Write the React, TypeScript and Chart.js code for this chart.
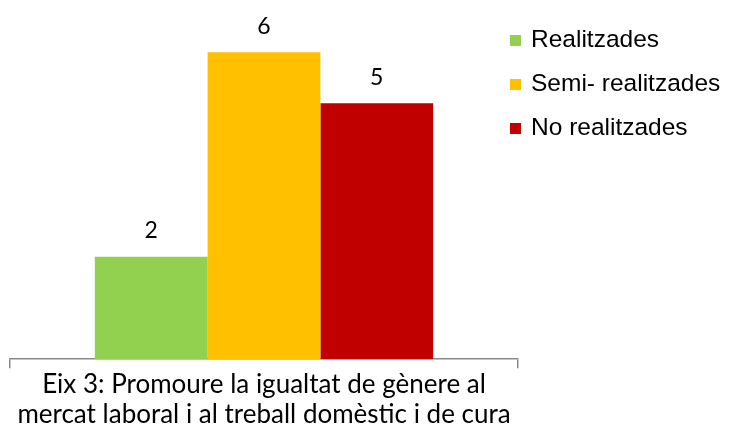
import React, { useEffect, useRef } from "react";
import { Chart, registerables } from "chart.js";

Chart.register(...registerables);

const categoryLines: string[] = [
  "Eix 3: Promoure la igualtat de gènere al",
  "mercat laboral i al treball domèstic i de cura",
];
const seriesLabels: string[] = ["Realitzades", "Semi- realitzades", "No realitzades"];
const seriesValues: number[] = [2, 6, 5];
const seriesColors: string[] = ["#92D050", "#FFC000", "#C00000"];

const valueLabelPlugin = {
  id: "valueLabels",
  afterDatasetsDraw(chart: any) {
    const ctx = chart.ctx;
    ctx.save();
    ctx.font = "23px Lato";
    ctx.fillStyle = "#000";
    ctx.textAlign = "center";
    ctx.textBaseline = "middle";
    chart.data.datasets.forEach((ds: any, i: number) => {
      const meta = chart.getDatasetMeta(i);
      meta.data.forEach((bar: any, j: number) => {
        ctx.fillText(String(ds.data[j]), bar.x, bar.y - 26);
      });
    });
    ctx.restore();
  },
};

const sideLegendPlugin = {
  id: "sideLegend",
  afterDraw(chart: any) {
    const ctx = chart.ctx;
    ctx.save();
    ctx.font = "24.5px 'Liberation Sans'";
    ctx.textBaseline = "middle";
    ctx.textAlign = "left";
    chart.data.datasets.forEach((ds: any, i: number) => {
      const cy = 40.5 + i * 44;
      ctx.fillStyle = ds.backgroundColor;
      ctx.fillRect(510, cy - 5.5, 11, 11);
      ctx.fillStyle = "#000";
      ctx.fillText(ds.label, 531, cy);
    });
    ctx.restore();
  },
};

export default function App() {
  const ref = useRef<HTMLCanvasElement>(null);
  useEffect(() => {
    document.body.style.margin = "0";
    const chart = new Chart(ref.current!, {
      type: "bar",
      data: {
        labels: [categoryLines],
        datasets: seriesLabels.map((label, i) => ({
          label,
          data: [seriesValues[i]],
          backgroundColor: seriesColors[i],
          borderWidth: 0,
        })),
      },
      options: {
        animation: false,
        responsive: false,
        layout: { padding: { left: 10, right: 218, top: 1, bottom: 4 } },
        datasets: { bar: { categoryPercentage: 0.666, barPercentage: 1 } },
        plugins: { legend: { display: false }, tooltip: { enabled: false } },
        scales: {
          x: {
            offset: true,
            grid: {
              offset: true,
              drawOnChartArea: false,
              drawTicks: true,
              tickLength: 9,
              color: "#8a8a8a",
              lineWidth: 1.5,
            },
            border: { display: true, color: "#8a8a8a", width: 1.5 },
            ticks: {
              color: "#000",
              font: { family: "Lato", size: 26, lineHeight: 1.17 },
              padding: 1,
              maxRotation: 0,
              autoSkip: false,
            },
          },
          y: { display: false, min: 0, max: 7 },
        },
      },
      plugins: [valueLabelPlugin, sideLegendPlugin],
    });
    return () => chart.destroy();
  }, []);
  return <canvas ref={ref} width={736} height={435} style={{ display: "block" }} />;
}
